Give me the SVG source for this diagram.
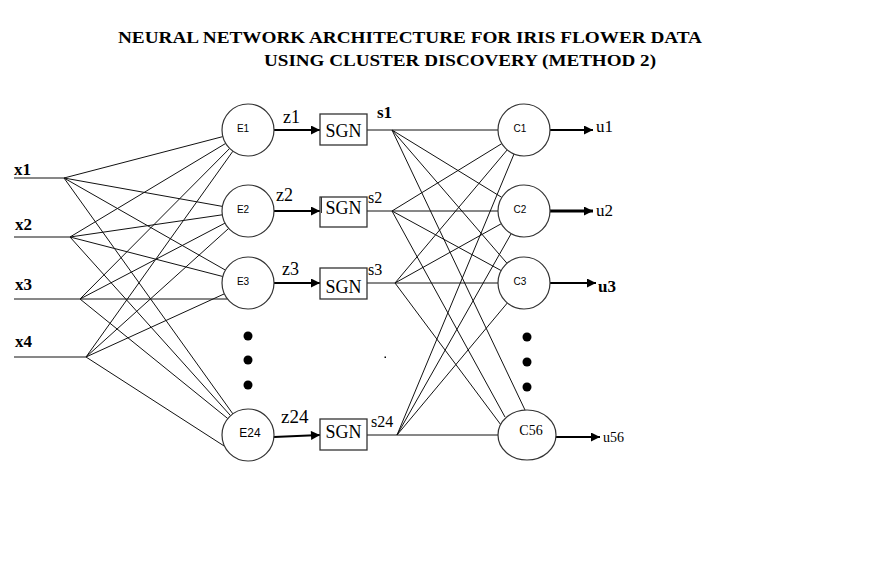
<svg xmlns="http://www.w3.org/2000/svg" width="871" height="581" viewBox="0 0 871 581">
<style>
.bg{fill:#fff}
.w{stroke:#111;stroke-width:1;fill:none}
.nd{fill:#fff;stroke:#333;stroke-width:1.2}
.box{fill:#fff;stroke:#333;stroke-width:1.3}
.ar{stroke:#000;stroke-width:2;fill:none}
.dot{fill:#000}
.ser{font-family:"Liberation Serif","Times New Roman",serif;fill:#000}
.san{font-family:"Liberation Sans",Arial,sans-serif;fill:#000}
.title{font-family:"Liberation Serif","Times New Roman",serif;font-weight:bold;font-size:16px;fill:#000}
</style>
<defs>
<marker id="ah" viewBox="0 0 10 10" refX="10" refY="5" markerWidth="5" markerHeight="4.5" markerUnits="strokeWidth" orient="auto">
<path d="M0,0 L10,5 L0,10 z" fill="#000"/>
</marker>
<marker id="ah2" viewBox="0 0 10 10" refX="10" refY="5" markerWidth="3.4" markerHeight="3" markerUnits="strokeWidth" orient="auto">
<path d="M0,0 L10,5 L0,10 z" fill="#000"/>
</marker>
</defs>
<rect class="bg" x="0" y="0" width="871" height="581"/>
<g id="title">
<text class="title" x="118" y="43" textLength="584" lengthAdjust="spacingAndGlyphs">NEURAL NETWORK ARCHITECTURE FOR IRIS FLOWER DATA</text>
<text class="title" x="264" y="66" textLength="392" lengthAdjust="spacingAndGlyphs">USING CLUSTER DISCOVERY (METHOD 2)</text>
</g>
<g id="connectors">
<line class="w" x1="14" y1="178" x2="64" y2="178"/>
<line class="w" x1="14" y1="237" x2="70" y2="237"/>
<line class="w" x1="14" y1="299" x2="227.5" y2="299"/>
<line class="w" x1="14" y1="357" x2="86" y2="357"/>
<line class="w" x1="64" y1="178" x2="222.8" y2="136.6"/>
<line class="w" x1="64" y1="178" x2="222.4" y2="206.4"/>
<line class="w" x1="64" y1="178" x2="225.4" y2="270.1"/>
<line class="w" x1="64" y1="178" x2="232.9" y2="413.9"/>
<line class="w" x1="70" y1="237" x2="225.7" y2="143.4"/>
<line class="w" x1="70" y1="237" x2="222.3" y2="214.8"/>
<line class="w" x1="70" y1="237" x2="222.8" y2="276.5"/>
<line class="w" x1="70" y1="237" x2="230.6" y2="415.7"/>
<line class="w" x1="80" y1="299" x2="229.7" y2="148.4"/>
<line class="w" x1="80" y1="299" x2="225" y2="223.1"/>
<line class="w" x1="80" y1="299" x2="227.8" y2="418.6"/>
<line class="w" x1="86" y1="357" x2="232.9" y2="151.2"/>
<line class="w" x1="86" y1="357" x2="228.7" y2="228.4"/>
<line class="w" x1="86" y1="357" x2="224.4" y2="293.8"/>
<line class="w" x1="86" y1="357" x2="224.6" y2="446.3"/>
<line class="ar" x1="274" y1="130" x2="320" y2="130" marker-end="url(#ah)"/>
<line class="ar" x1="274" y1="211" x2="320" y2="211" marker-end="url(#ah)"/>
<line class="ar" x1="274" y1="283" x2="320" y2="283" marker-end="url(#ah)"/>
<line class="ar" x1="274" y1="437" x2="320" y2="435" marker-end="url(#ah)"/>
<line class="w" x1="367" y1="130" x2="498" y2="130"/>
<line class="w" x1="367" y1="211" x2="498" y2="211"/>
<line class="w" x1="367" y1="283" x2="498" y2="283"/>
<line class="w" x1="367" y1="435" x2="498" y2="435"/>
<line class="w" x1="392" y1="130" x2="501.8" y2="197.4"/>
<line class="w" x1="392" y1="130" x2="507" y2="263.3"/>
<line class="w" x1="392" y1="130" x2="525" y2="410"/>
<line class="w" x1="392" y1="211" x2="501.8" y2="143.6"/>
<line class="w" x1="392" y1="211" x2="501.2" y2="270.6"/>
<line class="w" x1="392" y1="211" x2="505" y2="417"/>
<line class="w" x1="395" y1="283" x2="507.2" y2="149.9"/>
<line class="w" x1="395" y1="283" x2="501.3" y2="223.7"/>
<line class="w" x1="395" y1="283" x2="501" y2="425"/>
<line class="w" x1="397" y1="435" x2="514" y2="154"/>
<line class="w" x1="397" y1="435" x2="511.2" y2="233.6"/>
<line class="w" x1="397" y1="435" x2="507.3" y2="303"/>
<line class="ar" x1="550" y1="130" x2="593" y2="130" marker-end="url(#ah)"/>
<line class="ar" x1="550" y1="211" x2="593" y2="211" style="stroke-width:3" marker-end="url(#ah2)"/>
<line class="ar" x1="550" y1="283" x2="596" y2="283" marker-end="url(#ah)"/>
<line class="ar" x1="556" y1="437" x2="600" y2="437" marker-end="url(#ah)"/>
</g>
<g id="inputs">
<text class="ser" x="14" y="175" font-size="17" font-weight="bold">x1</text>
<text class="ser" x="15" y="230" font-size="17" font-weight="bold">x2</text>
<text class="ser" x="15" y="290" font-size="17" font-weight="bold">x3</text>
<text class="ser" x="15" y="347" font-size="17" font-weight="bold">x4</text>
</g>
<g id="E1"><circle class="nd" cx="248" cy="130" r="26"/><text class="san" x="243" y="132" font-size="10" text-anchor="middle">E1</text></g>
<g id="E2"><circle class="nd" cx="248" cy="211" r="26"/><text class="san" x="243" y="213" font-size="10" text-anchor="middle">E2</text></g>
<g id="E3"><circle class="nd" cx="248" cy="283" r="26"/><text class="san" x="243" y="285" font-size="10" text-anchor="middle">E3</text></g>
<g id="E24"><circle class="nd" cx="248" cy="435" r="26"/><text class="san" x="250" y="437" font-size="12" text-anchor="middle">E24</text></g>
<g id="edots"><circle class="dot" cx="248" cy="336" r="4.5"/><circle class="dot" cx="248" cy="360" r="4.5"/><circle class="dot" cx="248" cy="385" r="4.5"/></g>
<g id="zlabels">
<text class="ser" x="283" y="123" font-size="18">z1</text>
<text class="ser" x="276" y="201" font-size="18">z2</text>
<text class="ser" x="282" y="275" font-size="18">z3</text>
<text class="ser" x="281" y="423" font-size="19">z24</text>
</g>
<g id="SGN1"><rect class="box" x="320" y="114" width="47" height="31"/><text class="ser" x="343.5" y="137" font-size="18" text-anchor="middle">SGN</text></g>
<g id="SGN2"><rect class="box" x="320" y="197" width="47" height="30"/><line x1="321.5" y1="197" x2="321.5" y2="213" stroke="#333" stroke-width="1"/><text class="ser" x="343.5" y="214" font-size="18" text-anchor="middle">SGN</text></g>
<g id="SGN3"><rect class="box" x="320" y="268" width="47" height="31"/><text class="ser" x="343.5" y="293" font-size="18" text-anchor="middle">SGN</text></g>
<g id="SGN24"><rect class="box" x="320" y="419" width="47" height="31"/><text class="ser" x="343.5" y="438" font-size="18" text-anchor="middle">SGN</text></g>
<g id="slabels">
<text class="ser" x="377" y="118" font-size="17" font-weight="bold">s1</text>
<text class="ser" x="368" y="203" font-size="16">s2</text>
<text class="ser" x="368" y="275" font-size="16">s3</text>
<text class="ser" x="371" y="427" font-size="16">s24</text>
</g>
<g id="C1"><circle class="nd" cx="524" cy="130" r="26"/><text class="san" x="520" y="132" font-size="10" text-anchor="middle">C1</text></g>
<g id="C2"><circle class="nd" cx="524" cy="211" r="26"/><text class="san" x="520" y="213" font-size="10" text-anchor="middle">C2</text></g>
<g id="C3"><circle class="nd" cx="524" cy="283" r="26"/><text class="san" x="520" y="285" font-size="10" text-anchor="middle">C3</text></g>
<g id="C56"><ellipse class="nd" cx="527" cy="435" rx="29" ry="25"/><text class="ser" x="531" y="435" font-size="14" text-anchor="middle">C56</text></g>
<g id="cdots"><circle class="dot" cx="527" cy="337" r="4.5"/><circle class="dot" cx="527" cy="362" r="4.5"/><circle class="dot" cx="527" cy="387" r="4.5"/></g>
<g id="outputs">
<text class="ser" x="596" y="132" font-size="17">u1</text>
<text class="ser" x="596" y="216" font-size="17">u2</text>
<text class="ser" x="598" y="292" font-size="17" font-weight="bold">u3</text>
<text class="ser" x="603" y="442" font-size="14">u56</text>
</g>
<rect x="384.5" y="356.5" width="1.5" height="1.5" fill="#000"/>
</svg>
